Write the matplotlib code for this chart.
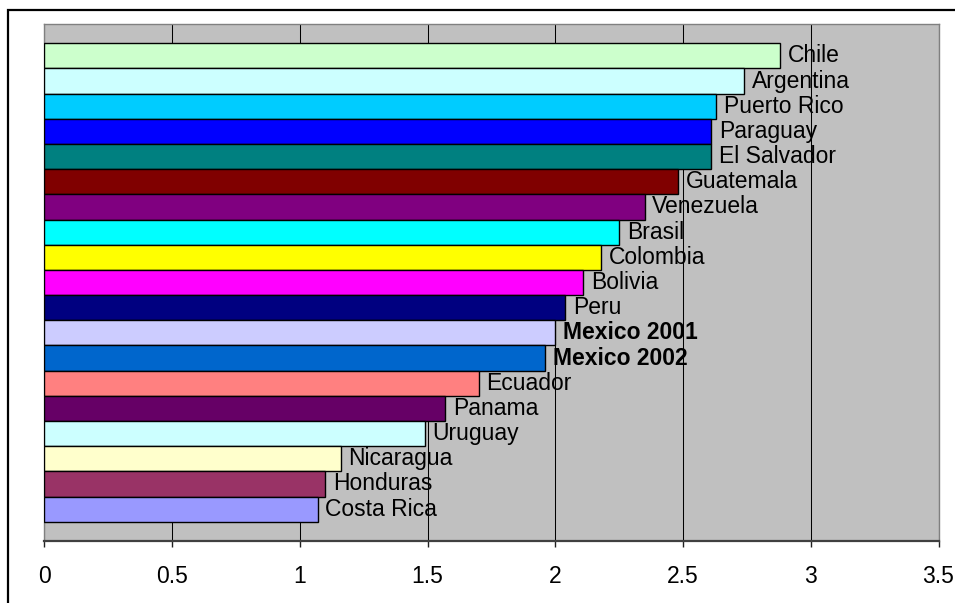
import matplotlib
matplotlib.use("Agg")
from matplotlib import pyplot as plt
from matplotlib.patches import Rectangle

plt.rcParams['font.family'] = ['Liberation Sans', 'DejaVu Sans']

# countries, top to bottom
countries = ["Chile", "Argentina", "Puerto Rico", "Paraguay", "El Salvador",
             "Guatemala", "Venezuela", "Brasil", "Colombia", "Bolivia", "Peru",
             "Mexico 2001", "Mexico 2002", "Ecuador", "Panama", "Uruguay",
             "Nicaragua", "Honduras", "Costa Rica"]
scores = [2.88, 2.74, 2.63, 2.61, 2.61, 2.48, 2.35, 2.25, 2.18, 2.11, 2.04,
          2.00, 1.96, 1.70, 1.57, 1.49, 1.16, 1.10, 1.07]
bar_colors = ["#CCFFCC", "#CCFFFF", "#00CCFF", "#0000FF", "#008080",
              "#800000", "#800080", "#00FFFF", "#FFFF00", "#FF00FF", "#000080",
              "#CCCCFF", "#0066CC", "#FF8080", "#660066", "#CCFFFF",
              "#FFFFCC", "#993366", "#9999FF"]
bold_labels = {"Mexico 2001", "Mexico 2002"}
x_ticks = [0, 0.5, 1, 1.5, 2, 2.5, 3, 3.5]

W, H = 955, 603
fig = plt.figure(figsize=(W / 100, H / 100), dpi=100)
ax = fig.add_axes([44.3 / W, 62 / H, 894.2 / W, 517 / H])
ax.set_facecolor("#C0C0C0")

# outer chart frame (runs off the right and bottom edges)
fig.patches.append(Rectangle((8 / W, -0.1), 1.2, (H - 10) / H + 0.1,
                             transform=fig.transFigure, fill=False,
                             edgecolor="black", linewidth=1.6, zorder=0))

ypos = list(range(len(countries)))
ax.barh(ypos, scores, height=1.0, color=bar_colors, edgecolor="black",
        linewidth=1.0, zorder=3)

for y, name, val in zip(ypos, countries, scores):
    ax.annotate(name, xy=(val, y), xytext=(5.5, 0), textcoords="offset points",
                va="center", ha="left", fontsize=16.5,
                fontweight="bold" if name in bold_labels else "normal",
                zorder=5)

ax.set_xlim(0, 3.5)
margin = 0.766
ax.set_ylim(len(countries) - 0.5 + margin, -0.5 - margin)
ax.set_xticks(x_ticks)
ax.set_xticklabels([f"{t:g}" for t in x_ticks])
ax.set_yticks([])
ax.xaxis.grid(True, color="black", linewidth=0.75, zorder=1)
ax.set_axisbelow(True)
ax.tick_params(axis="x", direction="out", length=4.5, width=1.0,
               color="#202020", labelsize=16.5, pad=13)

for side in ("top", "left", "right"):
    ax.spines[side].set_color("#808080")
    ax.spines[side].set_linewidth(1.0)
ax.spines["bottom"].set_color("#404040")
ax.spines["bottom"].set_linewidth(1.6)

fig.savefig("out.png", dpi=100)
